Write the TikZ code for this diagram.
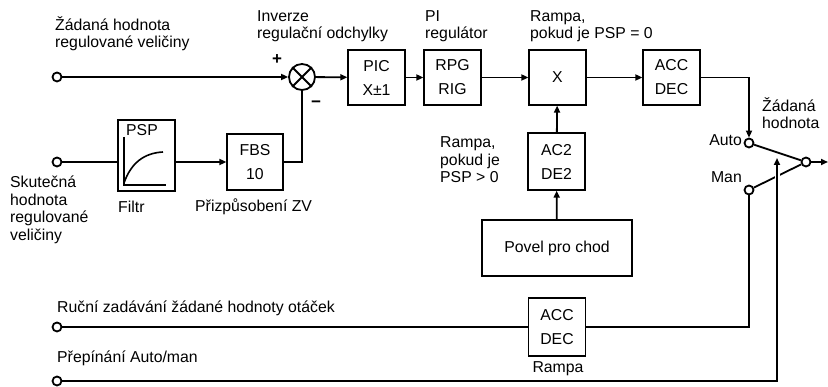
\documentclass[tikz,border=0pt]{standalone}
\usepackage{fontspec}
\setmainfont{Liberation Sans}
\usetikzlibrary{arrows.meta,calc}
\newcommand\fsz{\fontsize{15.8}{17.5}\selectfont}
\newcommand\bsz{\fontsize{15.8}{24}\selectfont}
\begin{document}
\begin{tikzpicture}[x=1pt,y=-1pt,
 blk/.style={draw,line width=1.3pt,minimum width=57pt,minimum height=55pt,align=center,inner sep=0pt,font=\bsz},
 term/.style={circle,draw,line width=1.8pt,minimum size=9pt,inner sep=0pt,fill=white},
 wire/.style={line width=1.8pt},
 arr/.style={wire,-{Triangle[length=7pt,width=6pt]}},
 lbl/.style={inner sep=0pt,align=left,font=\fsz}]
\useasboundingbox[fill=white] (0,0) rectangle (828,387);

% blocks
\node[term] (in1) at (57,77) {};
\node[circle,draw,line width=1.8pt,minimum size=26pt,inner sep=0pt] (sum) at (302,77) {};
\draw[wire] (sum.north west) -- (sum.south east) (sum.north east) -- (sum.south west);
\node[blk] (pic) at (376.5,77.5) {PIC\\X±1};
\node[blk] (rpg) at (452.5,77.5) {RPG\\RIG};
\node[blk] (xb) at (557.5,77.5) {X};
\node[blk] (acc) at (671.5,77.5) {ACC\\DEC};
\node[term] (auto) at (749,143) {};
\node[term] (man) at (749,190) {};
\node[term] (out) at (806,162) {};
\coordinate (end) at (828,162);
\node[term] (in2) at (57,162) {};
\node[blk,minimum height=71pt] (psp) at (146.5,155.5) {};
\node[inner sep=0pt,font=\fsz] (psplbl) at (142,130) {PSP};
\node[blk,minimum width=56pt,minimum height=56pt] (fbs) at (255,162) {FBS\\10};
\node[blk,minimum height=57pt] (ac2) at (556.5,161.5) {AC2\\DE2};
\node[blk,minimum width=150pt,minimum height=56pt] (povel) at (557,248) {Povel pro chod};
\node[term] (in3) at (57,327) {};
\node[blk,minimum height=58pt] (acc2) at (557,327) {ACC\\DEC};
\node[term] (in4) at (57,381) {};
\coordinate (tip) at (777,158);

% filter graph
\draw[line width=1.1pt] (124,137) -- (124,185) -- (166,185);
\draw[line width=1.6pt] (124,183) .. controls (131,163) and (144,153) .. (163,152);

% connectors
\draw[arr] (in1) -- (sum);
\draw[arr] (sum) -- (pic);
\draw[arr] (pic) -- (rpg);
\draw[arr] (rpg) -- (xb);
\draw[arr] (xb) -- (acc);
\draw[arr] (acc.east) -| (auto);
\draw[wire] (in2) -- (in2 -| psp.west);
\draw[arr] (psp.east |- in2) -- (fbs.west |- in2);
\draw[wire] (fbs.east) -| (sum.south);
\draw[arr] (povel) -- (ac2);
\draw[arr] (ac2) -- (xb);
\draw[wire] (in3) -- (acc2);
\draw[wire] (acc2.east) -| (man);
\draw[wire] (auto) -- (out);
\draw[wire] (man) -- (out);
\draw[white,line width=5pt] ($(tip)+(0,12)$) -- ($(tip)+(0,24)$);
\draw[arr] (in4) -| (tip);
\draw[arr] (out) -- (end);

% signs
\node[inner sep=0pt,font=\fontsize{17}{17}\selectfont\bfseries] (plus) at (277,60) {+};
\node[inner sep=0pt,font=\fontsize{17}{17}\selectfont\bfseries] (minus) at (316,104) {−};

% labels
\node[lbl,anchor=west] (t1) at (55,33.5) {Žádaná hodnota\\regulované veličiny};
\node[lbl,anchor=west] (t2) at (257,26) {Inverze\\regulační odchylky};
\node[lbl,anchor=west] (t3) at (425,26) {PI\\regulátor};
\node[lbl,anchor=west] (t4) at (530,26) {Rampa,\\pokud je PSP = 0};
\node[lbl,anchor=west] (t5) at (762,113) {Žádaná\\hodnota};
\node[lbl,anchor=east] (t6) at (742,140) {Auto};
\node[lbl,anchor=east] (t7) at (742,177) {Man};
\node[lbl,anchor=west] (t8) at (440,160) {Rampa,\\pokud je\\PSP > 0};
\node[lbl,anchor=west] (t9) at (10,210) {Skutečná\\hodnota\\regulované\\veličiny};
\node[lbl,anchor=west] (t10) at (118,207) {Filtr};
\node[lbl,anchor=west] (t11) at (195,207) {Přizpůsobení ZV};
\node[lbl,anchor=west] (t12) at (57,308) {Ruční zadávání žádané hodnoty otáček};
\node[lbl,anchor=west] (t13) at (57,358) {Přepínání Auto/man};
\node[lbl] (t14) at (558,369) {Rampa};
\end{tikzpicture}
\end{document}
